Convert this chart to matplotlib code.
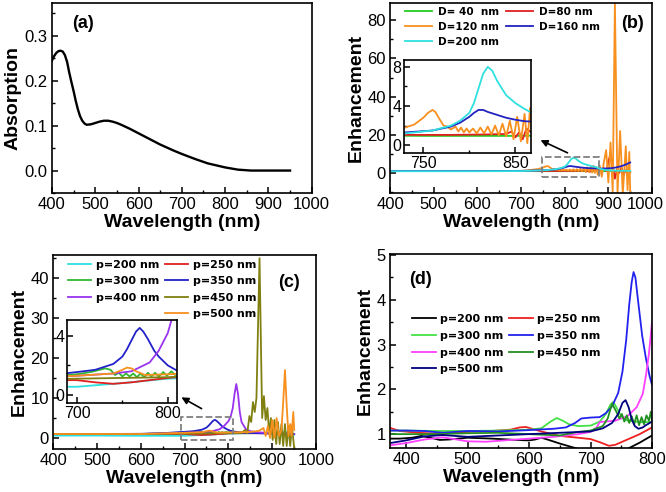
import matplotlib
matplotlib.use('Agg')
import matplotlib.pyplot as plt
import matplotlib.transforms as mtrans
from matplotlib.lines import Line2D
from matplotlib.patches import Rectangle, FancyArrowPatch
from matplotlib.ticker import MultipleLocator, FixedLocator, FormatStrFormatter

plt.rcParams['font.family'] = ['Liberation Sans', 'DejaVu Sans']
plt.rcParams['xtick.direction'] = 'in'
plt.rcParams['ytick.direction'] = 'in'
plt.rcParams['axes.linewidth'] = 1.2

# ---------------- Panel (a): absorption ----------------
abs_wl = [400, 405, 410, 415, 420, 425, 430, 435, 440, 445, 450, 455, 460, 465, 470, 475,
          480, 490, 500, 510, 520, 530, 540, 550, 560, 580, 600, 620, 650, 680, 700, 730,
          760, 800, 830, 860, 900, 950]
abs_val = [0.245, 0.255, 0.262, 0.266, 0.267, 0.265, 0.257, 0.242, 0.218, 0.197, 0.177, 0.155,
           0.136, 0.121, 0.111, 0.105, 0.102, 0.103, 0.106, 0.109, 0.111, 0.111, 0.109, 0.106,
           0.102, 0.093, 0.083, 0.073, 0.058, 0.045, 0.037, 0.026, 0.016, 0.007, 0.002, 0.0,
           0.0, 0.0]

# ---------------- Panel (b): diameter D ----------------
b_labels = ['D= 40  nm', 'D=80 nm', 'D=120 nm', 'D=160 nm', 'D=200 nm']
b_colors = ['#22cc22', '#e02020', '#f7901e', '#2222c0', '#30e0e0']

d40_x = [400, 500, 600, 700, 750, 800, 850, 900, 950]
d40_y = [1.0, 1.0, 1.0, 0.98, 0.95, 0.95, 0.95, 1.0, 1.0]

d80_x = [400, 600, 700, 730, 780, 820, 840, 846, 850, 854, 858, 862, 866, 870, 880, 890, 896,
         900, 905, 910, 915, 920, 925, 930, 935, 940, 945, 950]
d80_y = [1.0, 1.0, 1.05, 1.05, 1.05, 1.1, 1.15, 1.4, 0.8, 1.3, 0.6, 1.7, 1.4, 1.2, 1.5, 2.5,
         1.0, 6.0, 10.0, 4.0, -3.0, 2.0, 0.0, 3.0, -1.0, 1.5, 0.0, 0.5]

d120_x = [400, 600, 700, 720, 730, 740, 750, 755, 760, 763, 768, 772, 776, 780, 785, 788, 791,
          794, 797, 800, 804, 808, 812, 816, 820, 824, 828, 832, 836, 840, 844, 848, 852, 856,
          860, 863, 866, 869, 872, 876, 880, 885, 890, 895, 900, 905, 910, 915, 921, 927, 933,
          940, 944, 948, 950]
d120_y = [1.0, 1.0, 1.1, 1.5, 1.8, 2.1, 2.8, 3.3, 3.6, 3.4, 2.6, 2.0, 1.9, 1.6, 1.9, 1.4, 1.8,
          1.3, 1.7, 1.3, 1.7, 1.2, 1.8, 1.2, 1.9, 1.1, 2.0, 1.0, 2.2, 0.9, 2.5, 0.6, 2.9, 0.4,
          3.2, 0.2, 3.8, 0.0, 3.0, -1.0, 4.0, -2.0, 6.0, 12.0, -5.0, 16.0, -10.0, 89.0, -11.0,
          22.0, -11.0, 14.0, -9.0, 11.0, -10.0]

d160_x = [400, 600, 700, 730, 760, 780, 790, 800, 805, 810, 815, 820, 830, 840, 850, 860, 870,
          880, 890, 900, 910, 920, 930, 940, 950]
d160_y = [1.0, 1.0, 1.1, 1.3, 1.5, 1.9, 2.3, 2.9, 3.3, 3.6, 3.6, 3.4, 3.1, 2.8, 2.6, 2.45,
          2.4, 2.3, 2.3, 2.4, 2.6, 3.0, 3.6, 4.4, 5.5]

d200_x = [400, 600, 700, 730, 760, 780, 790, 800, 805, 810, 815, 820, 825, 830, 840, 850, 860,
          870, 880, 890, 900, 920, 950]
d200_y = [0.9, 0.9, 1.0, 1.2, 1.5, 2.0, 2.5, 3.3, 4.3, 5.8, 7.3, 8.0, 7.6, 6.6, 5.1, 4.3, 3.7,
          3.2, 2.3, 1.7, 1.4, 1.2, 1.1]

# ---------------- Panel (c): period p ----------------
c_labels = ['p=200 nm', 'p=250 nm', 'p=300 nm', 'p=350 nm', 'p=400 nm', 'p=450 nm', 'p=500 nm']
c_colors = ['#30e0e0', '#e02020', '#30b830', '#2222c8', '#9933ee', '#808010', '#f7901e']

c200_x = [400, 500, 600, 700, 750, 800, 850, 900, 930, 950]
c200_y = [0.6, 0.6, 0.55, 0.55, 0.8, 1.1, 1.2, 1.3, 1.5, 0.8]

c250_x = [400, 600, 700, 720, 740, 760, 780, 800, 810, 850, 900, 950]
c250_y = [1.0, 1.0, 1.0, 0.85, 0.75, 0.85, 1.0, 1.15, 1.2, 1.2, 1.2, 1.0]

c300_x = [400, 600, 680, 700, 715, 725, 731, 737, 742, 746, 750, 754, 758, 762, 766, 770, 774,
          778, 782, 786, 790, 795, 799, 804, 808, 812, 850, 900, 950]
c300_y = [1.0, 1.0, 1.3, 1.4, 1.55, 1.7, 1.8, 1.7, 1.35, 1.5, 1.25, 1.45, 1.25, 1.45, 1.2,
          1.45, 1.2, 1.5, 1.25, 1.5, 1.25, 1.55, 1.3, 1.6, 1.35, 1.4, 1.3, 1.2, 1.0]

c350_x = [400, 500, 600, 650, 700, 720, 740, 750, 755, 760, 765, 769, 773, 778, 785, 790, 800,
          810, 830, 850, 900, 950]
c350_y = [1.0, 1.0, 1.05, 1.2, 1.55, 1.7, 2.1, 2.6, 3.1, 3.7, 4.3, 4.55, 4.3, 3.8, 3.0, 2.6,
          2.0, 1.65, 1.4, 1.25, 1.1, 1.0]

c400_x = [400, 600, 700, 740, 760, 780, 790, 800, 805, 810, 814, 818, 822, 826, 830, 840, 850,
          870, 900, 950]
c400_y = [1.0, 1.0, 1.3, 1.45, 1.6, 2.2, 3.0, 4.2, 5.3, 7.5, 11.0, 13.5, 11.0, 6.5, 4.0, 2.2,
          1.7, 1.4, 1.2, 1.0]

c450_x = [400, 600, 800, 830, 838, 843, 848, 852, 856, 860, 864, 868, 871, 874, 877, 881, 885,
          889, 893, 897, 901, 905, 909, 913, 917, 921, 925, 929, 933, 937, 941, 945, 950]
c450_y = [1.0, 1.0, 1.2, 1.3, 2.0, 1.2, 5.5, 4.0, 9.0, 6.5, 10.0, 30.0, 45.0, 25.0, 5.0, 10.5,
          4.5, 7.5, 1.0, 5.0, -0.5, 4.5, -1.5, 4.0, -1.5, 3.5, -2.0, 3.5, -2.0, 3.0, -2.0, 3.0,
          -2.5]

c500_x = [400, 600, 700, 740, 750, 755, 760, 765, 775, 800, 850, 870, 880, 885, 890, 895, 900,
          905, 910, 915, 921, 925, 929, 933, 937, 941, 944, 948, 950]
c500_y = [1.0, 1.0, 1.3, 1.45, 1.7, 1.85, 1.8, 1.6, 1.35, 1.4, 1.5, 1.8, 2.5, 0.5, 3.0, 0.0,
          4.5, 0.0, 5.0, 0.5, 2.0, 9.0, 17.0, 8.0, 0.5, 3.5, 0.5, 6.5, 2.0]

# ---------------- Panel (d): period p, 374-800 nm ----------------
d_labels = ['p=200 nm', 'p=250 nm', 'p=300 nm', 'p=350 nm', 'p=400 nm', 'p=450 nm', 'p=500 nm']
d_colors = ['#000000', '#ee2020', '#44e044', '#2222ee', '#ff40ff', '#229022', '#000080']

e200_x = [374, 390, 410, 425, 440, 455, 470, 500, 540, 580, 600, 610, 620, 630, 650, 670, 680,
          700, 740, 760, 770, 780, 790, 800]
e200_y = [0.9, 0.9, 0.92, 0.96, 0.92, 0.87, 0.88, 0.92, 0.9, 0.87, 0.86, 0.88, 0.92, 0.88,
          0.79, 0.71, 0.67, 0.6, 0.6, 0.67, 0.74, 0.81, 0.89, 0.97]

e250_x = [374, 390, 420, 450, 480, 500, 540, 570, 585, 595, 605, 620, 650, 680, 700, 715, 730,
          740, 760, 780, 800]
e250_y = [1.14, 1.07, 1.03, 1.01, 1.03, 1.05, 1.07, 1.1, 1.15, 1.16, 1.12, 1.06, 0.96, 0.92,
          0.89, 0.82, 0.74, 0.76, 0.88, 1.0, 1.15]

e300_x = [374, 400, 450, 500, 550, 600, 620, 635, 645, 655, 665, 680, 700, 715, 725, 732, 737,
          742, 750, 760, 780, 800]
e300_y = [1.08, 1.08, 1.07, 1.07, 1.08, 1.1, 1.13, 1.28, 1.36, 1.3, 1.22, 1.18, 1.19, 1.28,
          1.45, 1.65, 1.72, 1.6, 1.4, 1.3, 1.27, 1.27]

e350_x = [374, 400, 430, 460, 500, 550, 600, 640, 660, 675, 685, 700, 715, 725, 735, 745, 752,
          758, 763, 767, 770, 773, 778, 784, 790, 796, 800]
e350_y = [1.08, 1.08, 1.07, 1.03, 1.07, 1.06, 1.09, 1.12, 1.15, 1.25, 1.35, 1.37, 1.38, 1.47,
          1.62, 1.92, 2.4, 3.1, 3.9, 4.4, 4.62, 4.5, 3.9, 3.2, 2.7, 2.3, 2.1]

e400_x = [374, 400, 430, 460, 500, 530, 560, 600, 640, 680, 700, 710, 715, 740, 760, 775, 785,
          790, 795, 800]
e400_y = [0.75, 0.8, 0.88, 0.93, 0.84, 0.83, 0.86, 0.9, 0.94, 1.0, 1.05, 1.15, 1.27, 1.3, 1.4,
          1.6, 1.9, 2.3, 2.8, 3.5]

e450_x = [374, 400, 450, 500, 550, 600, 650, 680, 700, 720, 728, 735, 742, 747, 751, 755, 759,
          763, 767, 771, 775, 779, 783, 787, 791, 795, 798, 800]
e450_y = [1.0, 1.0, 1.0, 1.02, 1.03, 1.0, 0.97, 1.05, 1.08, 1.18, 1.35, 1.68, 1.5, 1.35, 1.45,
          1.28, 1.42, 1.25, 1.4, 1.22, 1.42, 1.2, 1.38, 1.22, 1.42, 1.3, 1.5, 1.3]

e500_x = [374, 400, 430, 460, 500, 550, 600, 650, 700, 720, 735, 745, 752, 757, 762, 767, 772,
          778, 785, 790, 800]
e500_y = [0.8, 0.86, 0.95, 0.98, 0.94, 0.97, 1.0, 1.03, 1.06, 1.13, 1.25, 1.45, 1.7, 1.76, 1.6,
          1.33, 1.18, 1.12, 1.15, 1.2, 1.28]

TICK_FS = 12
LABEL_FS = 14
PANEL_FS = 13
LEG_FAMILY = ['DejaVu Sans']

fig = plt.figure(figsize=(6.66, 4.92), dpi=100)


def style(ax, xmaj, xmin, ymaj, ymin, fs=TICK_FS):
    ax.xaxis.set_major_locator(xmaj if not isinstance(xmaj, (int, float)) else MultipleLocator(xmaj))
    ax.xaxis.set_minor_locator(MultipleLocator(xmin))
    ax.yaxis.set_major_locator(MultipleLocator(ymaj))
    ax.yaxis.set_minor_locator(MultipleLocator(ymin))
    ax.tick_params(which='major', length=4, width=1.1, labelsize=fs, top=False, right=False, pad=3)
    ax.tick_params(which='minor', length=2.2, width=1.0, top=False, right=False)


def set_labels(ax, ylabel):
    ax.set_xlabel('Wavelength (nm)', fontsize=LABEL_FS, fontweight='bold', labelpad=1)
    ax.set_ylabel(ylabel, fontsize=LABEL_FS, fontweight='bold', labelpad=2)


# ---- (a)
axa = fig.add_axes([0.078, 0.6077, 0.390, 0.386])
axa.plot(abs_wl, abs_val, color='black', lw=1.7)
axa.set_xlim(400, 1000)
axa.set_ylim(-0.05, 0.373)
style(axa, 100, 50, 0.1, 0.05)
axa.yaxis.set_major_formatter(FormatStrFormatter('%.1f'))
set_labels(axa, 'Absorption')
axa.text(0.077, 0.892, '(a)', transform=axa.transAxes, fontsize=PANEL_FS, fontweight='bold',
         va='center', ha='left')

# ---- (b)
b_series = [(d40_x, d40_y), (d80_x, d80_y), (d120_x, d120_y), (d160_x, d160_y), (d200_x, d200_y)]
axb = fig.add_axes([0.5856, 0.6077, 0.3934, 0.386])
b_handles = []
for (x, y), c, lab in zip(b_series, b_colors, b_labels):
    h, = axb.plot(x, y, color=c, lw=1.3, label=lab)
    b_handles.append(h)
axb.set_xlim(400, 1000)
axb.set_ylim(-10.5, 89)
style(axb, FixedLocator([400, 500, 600, 700, 800, 900, 1000]), 50, 20, 10)
set_labels(axb, 'Enhancement')
axb.text(0.882, 0.892, '(b)', transform=axb.transAxes, fontsize=PANEL_FS, fontweight='bold',
         va='center', ha='left')
last = axb.get_xticklabels()[-1]
last.set_transform(last.get_transform() + mtrans.ScaledTranslation(-5 / 72, 0, fig.dpi_scale_trans))
order = [0, 2, 4, 1, 3]
axb.legend([b_handles[i] for i in order], [b_labels[i] for i in order], ncol=2,
           loc='upper left', bbox_to_anchor=(0.057, 0.981), frameon=False,
           prop={'family': LEG_FAMILY, 'weight': 'bold', 'size': 7.5}, handlelength=2.6,
           handletextpad=0.6, columnspacing=0.6, labelspacing=0.5, borderpad=0,
           borderaxespad=0)
axb.add_patch(Rectangle((747, -2.3), 132, 10.8, fill=False, ls='--', lw=1.3, ec='#808080',
                        zorder=5))

axbi = fig.add_axes([0.6066, 0.689, 0.1907, 0.189])
for (x, y), c in zip(b_series, b_colors):
    axbi.plot(x, y, color=c, lw=1.3)
axbi.set_xlim(729, 867)
axbi.set_ylim(-0.8, 8.7)
style(axbi, FixedLocator([750, 850]), 50, 4, 2, fs=11.5)
axbi.tick_params(which='major', pad=2)
fig.add_artist(FancyArrowPatch((570 / 666, 1 - 154 / 492), (538 / 666, 1 - 139 / 492),
                               transform=fig.transFigure, arrowstyle='-|>',
                               mutation_scale=10, lw=1.2, color='black'))

# ---- (c)
c_series = [(c200_x, c200_y), (c250_x, c250_y), (c300_x, c300_y), (c350_x, c350_y),
            (c400_x, c400_y), (c450_x, c450_y), (c500_x, c500_y)]
axc = fig.add_axes([0.0796, 0.0874, 0.395, 0.394])
c_handles = []
for (x, y), c, lab in zip(c_series, c_colors, c_labels):
    h, = axc.plot(x, y, color=c, lw=1.3, label=lab)
    c_handles.append(h)
axc.set_xlim(400, 1000)
axc.set_ylim(-2.75, 45.75)
style(axc, 100, 50, 10, 5)
set_labels(axc, 'Enhancement')
axc.text(0.856, 0.861, '(c)', transform=axc.transAxes, fontsize=PANEL_FS, fontweight='bold',
         va='center', ha='left')
blank = Line2D([], [], color='none')
hc = [c_handles[0], c_handles[2], c_handles[4], blank, c_handles[1], c_handles[3], c_handles[5],
      c_handles[6]]
lc = [c_labels[0], c_labels[2], c_labels[4], '', c_labels[1], c_labels[3], c_labels[5],
      c_labels[6]]
axc.legend(hc, lc, ncol=2, loc='upper left', bbox_to_anchor=(0.057, 0.976), frameon=False,
           prop={'family': LEG_FAMILY, 'weight': 'bold', 'size': 8.0}, handlelength=2.1,
           handletextpad=0.45, columnspacing=0.45, labelspacing=0.58, borderpad=0,
           borderaxespad=0)
axc.add_patch(Rectangle((691, -0.5), 120, 5.8, fill=False, ls='--', lw=1.3, ec='#808080',
                        zorder=5))

axci = fig.add_axes([0.1006, 0.181, 0.165, 0.169])
for (x, y), c in zip(c_series, c_colors):
    axci.plot(x, y, color=c, lw=1.3)
axci.set_xlim(689, 810)
axci.set_ylim(-0.55, 5.1)
style(axci, 100, 50, 4, 2, fs=11.5)
axci.tick_params(which='major', pad=2)
fig.add_artist(FancyArrowPatch((204 / 666, 1 - 410 / 492), (179 / 666, 1 - 396 / 492),
                               transform=fig.transFigure, arrowstyle='-|>',
                               mutation_scale=10, lw=1.2, color='black'))

# ---- (d)
d_series = [(e200_x, e200_y), (e250_x, e250_y), (e300_x, e300_y), (e350_x, e350_y),
            (e400_x, e400_y), (e450_x, e450_y), (e500_x, e500_y)]
axd = fig.add_axes([0.5856, 0.0894, 0.3934, 0.394])
d_handles = []
for (x, y), c, lab in zip(d_series, d_colors, d_labels):
    h, = axd.plot(x, y, color=c, lw=1.3, label=lab)
    d_handles.append(h)
axd.set_xlim(374, 800)
axd.set_ylim(0.69, 5.02)
style(axd, 100, 50, 1, 0.5)
set_labels(axd, 'Enhancement')
axd.text(0.073, 0.869, '(d)', transform=axd.transAxes, fontsize=PANEL_FS, fontweight='bold',
         va='center', ha='left')
od = [0, 2, 4, 6, 1, 3, 5]
axd.legend([d_handles[i] for i in od], [d_labels[i] for i in od], ncol=2, loc='upper left',
           bbox_to_anchor=(0.084, 0.69), frameon=False,
           prop={'family': LEG_FAMILY, 'weight': 'bold', 'size': 8.0}, handlelength=2.2,
           handletextpad=0.35, columnspacing=0.45, labelspacing=0.6, borderpad=0,
           borderaxespad=0)

fig.savefig('out.png', dpi=100)
